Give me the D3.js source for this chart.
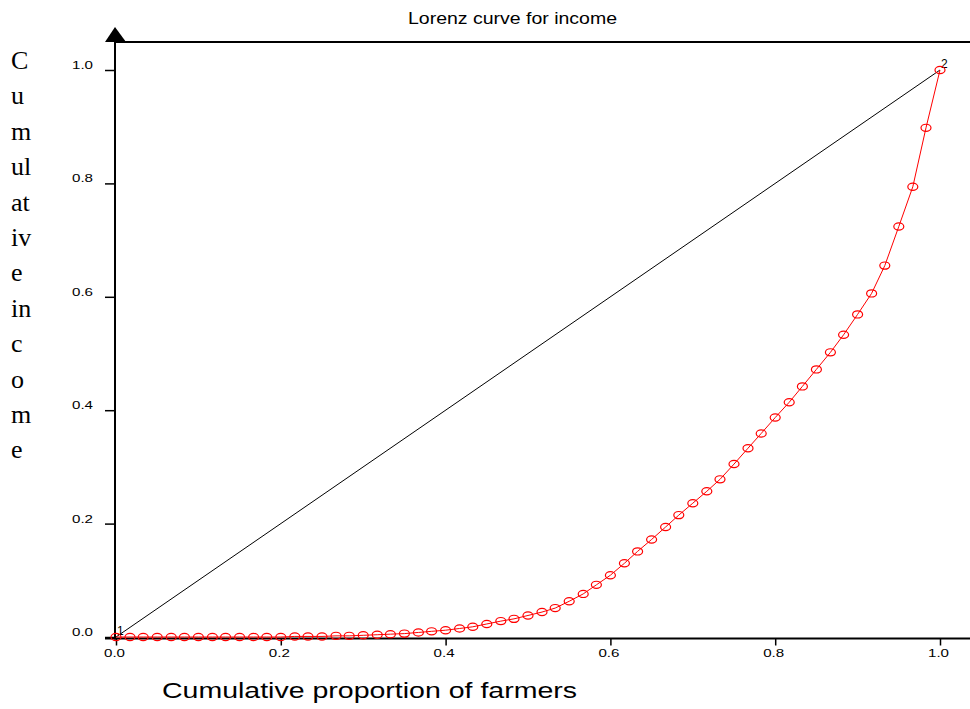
<!DOCTYPE html>
<html lang="en">

<head>
    <meta charset="UTF-8">
    <title>Lorenz curve for income</title>
    <style>
        body {
            margin: 0;
            background: #fff;
        }

        svg {
            display: block;
        }
    </style>
</head>

<body>
    <div class="box"></div>
    <script src="https://d3js.org/d3.v7.min.js"></script>

    <script>
        const width = 970;
        const height = 709;

        // cumulative proportion of farmers (61 points)
        const farmerShare = [0, .017, .033, .05, .067, .083, .1, .117, .133, .15, .167, .183, .2,
            .217, .233, .25, .267, .283, .3, .317, .333, .35, .367, .383, .4, .417, .433, .45, .467,
            .483, .5, .517, .533, .55, .567, .583, .6, .617, .633, .65, .667, .683, .7, .717, .733,
            .75, .767, .783, .8, .817, .833, .85, .867, .883, .9, .917, .933, .95, .967, .983, 1];
        // cumulative income share
        const incomeShare = [0, 0, 0, 0, 0, 0, 0, 0, 0, 0, 0, 0, 0,
            .001, .001, .001, .002, .002, .003, .004, .005, .006, .008, .010, .012, .015, .018,
            .023, .028, .032, .038, .044, .051, .063, .076, .092, .109, .130, .151, .172, .194,
            .215, .236, .257, .278, .305, .333, .359, .387, .414, .442, .472, .502, .533, .569,
            .606, .655, .724, .794, .898, 1];
        // line of equality, labelled 1 and 2
        const equalX = [0, 1];
        const equalY = [0, 1];
        const equalLabels = ['1', '2'];

        const xTicks = [0, 0.2, 0.4, 0.6, 0.8, 1.0];
        const yTicks = [0, 0.2, 0.4, 0.6, 0.8, 1.0];
        const yTitleLines = ['C', 'u', 'm', 'ul', 'at', 'iv', 'e', 'in', 'c', 'o', 'm', 'e'];

        const svg = d3.select('.box')
            .append('svg')
            .attr('width', width)
            .attr('height', height);

        const x = d3.scaleLinear().domain([0, 1]).range([116, 940]);
        const y = d3.scaleLinear().domain([0, 1]).range([637, 70]);
        const axisY = 638.5;
        const axisX = 115;

        // title
        svg.append('text')
            .attr('x', 408).attr('y', 24)
            .attr('font-family', 'Liberation Sans, Arial, sans-serif')
            .attr('font-size', 16)
            .attr('textLength', 209)
            .attr('lengthAdjust', 'spacingAndGlyphs')
            .text('Lorenz curve for income');

        // frame: top line, left axis with arrow, bottom axis
        svg.append('line')
            .attr('x1', axisX).attr('x2', width)
            .attr('y1', 42).attr('y2', 42)
            .attr('stroke', '#000').attr('stroke-width', 2);
        svg.append('line')
            .attr('x1', axisX).attr('x2', axisX)
            .attr('y1', 40).attr('y2', axisY + 1)
            .attr('stroke', '#000').attr('stroke-width', 2);
        svg.append('path')
            .attr('d', `M${axisX},27 L${axisX - 10},42 L${axisX + 11},42 Z`)
            .attr('fill', '#000');
        svg.append('line')
            .attr('x1', 105).attr('x2', width)
            .attr('y1', axisY).attr('y2', axisY)
            .attr('stroke', '#000').attr('stroke-width', 2);

        // x axis ticks
        const xAxis = d3.axisBottom(x)
            .tickValues(xTicks)
            .tickFormat(d3.format('.1f'))
            .tickSize(7)
            .tickPadding(4);
        const gx = svg.append('g')
            .attr('transform', `translate(0, ${axisY})`)
            .call(xAxis);
        gx.select('.domain').remove();
        gx.selectAll('.tick line').attr('stroke', '#000').attr('stroke-width', 1.5);
        gx.selectAll('.tick text')
            .attr('x', -2)
            .attr('font-family', 'Liberation Sans, Arial, sans-serif')
            .attr('font-size', 11)
            .attr('fill', '#000')
            .attr('textLength', 21)
            .attr('lengthAdjust', 'spacingAndGlyphs');

        // y axis ticks
        const yAxis = d3.axisLeft(y)
            .tickValues(yTicks)
            .tickFormat(d3.format('.1f'))
            .tickSize(10)
            .tickPadding(12);
        const gy = svg.append('g')
            .attr('transform', `translate(${axisX}, 0)`)
            .call(yAxis);
        gy.select('.domain').remove();
        gy.selectAll('.tick line').attr('stroke', '#000').attr('stroke-width', 1.5);
        gy.selectAll('.tick text')
            .attr('y', -5)
            .attr('font-family', 'Liberation Sans, Arial, sans-serif')
            .attr('font-size', 11)
            .attr('fill', '#000')
            .attr('textLength', 21)
            .attr('lengthAdjust', 'spacingAndGlyphs');

        // line of equality
        const eq = equalX.map((d, i) => [d, equalY[i]]);
        svg.append('path')
            .attr('d', d3.line().x(d => x(d[0])).y(d => y(d[1]))(eq))
            .attr('fill', 'none')
            .attr('stroke', '#000')
            .attr('stroke-width', 1);
        svg.selectAll('.eqlabel')
            .data(eq)
            .enter().append('text')
            .attr('class', 'eqlabel')
            .attr('x', d => x(d[0]) + 1)
            .attr('y', d => y(d[1]) - 2)
            .attr('font-family', 'Liberation Sans, Arial, sans-serif')
            .attr('font-size', 12)
            .text((d, i) => equalLabels[i]);

        // lorenz curve
        const pts = farmerShare.map((d, i) => [d, incomeShare[i]]);
        svg.append('path')
            .attr('d', d3.line().x(d => x(d[0])).y(d => y(d[1]))(pts))
            .attr('fill', 'none')
            .attr('stroke', '#ff0000')
            .attr('stroke-width', 1);
        svg.append('g').selectAll('ellipse')
            .data(pts)
            .enter().append('ellipse')
            .attr('cx', d => x(d[0]))
            .attr('cy', d => y(d[1]))
            .attr('rx', 5)
            .attr('ry', 3.6)
            .attr('fill', 'none')
            .attr('stroke', '#ff0000')
            .attr('stroke-width', 1.2);

        // axis titles
        svg.append('text')
            .attr('x', 162).attr('y', 698)
            .attr('font-family', 'Liberation Sans, Arial, sans-serif')
            .attr('font-size', 22)
            .attr('textLength', 415)
            .attr('lengthAdjust', 'spacingAndGlyphs')
            .text('Cumulative proportion of farmers');

        svg.append('g').selectAll('text')
            .data(yTitleLines)
            .enter().append('text')
            .attr('x', 11)
            .attr('y', (d, i) => 69 + i * 35.4)
            .attr('font-family', 'Liberation Serif, Times New Roman, serif')
            .attr('font-size', 26)
            .text(d => d);
    </script>
</body>

</html>
